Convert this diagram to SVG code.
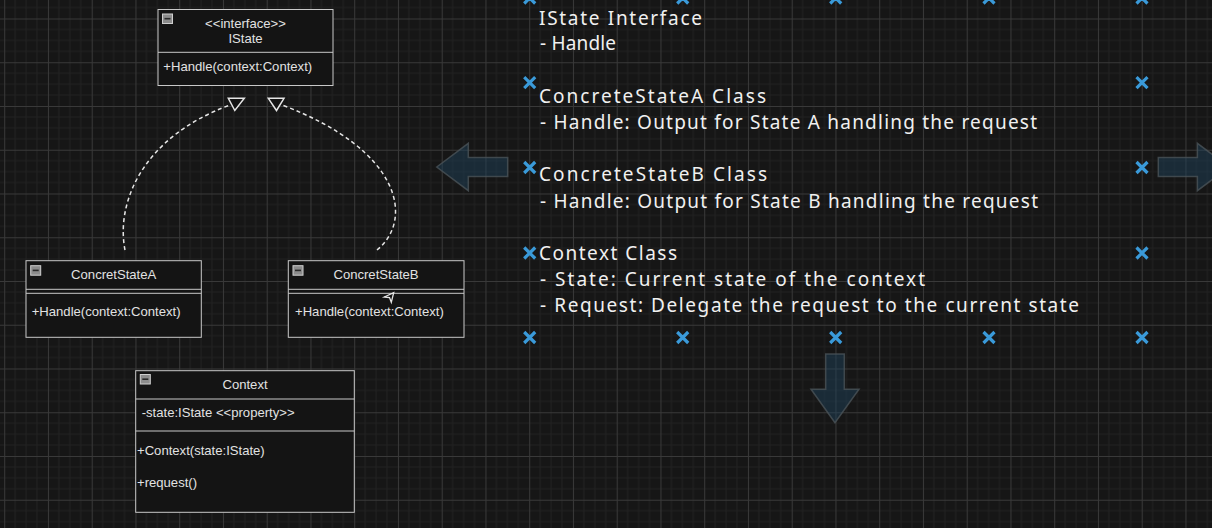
<svg xmlns="http://www.w3.org/2000/svg" width="1212" height="528" viewBox="0 0 1212 528">
<defs>
<pattern id="grid" patternUnits="userSpaceOnUse" x="4.2" y="18.5" width="43.75" height="43.75">
<path d="M10.94,0V43.75M21.88,0V43.75M32.81,0V43.75M0,10.94H43.75M0,21.88H43.75M0,32.81H43.75" stroke="#222222" stroke-width="1" fill="none"/>
<path d="M0.5,0V43.75M0,0.5H43.75" stroke="#393939" stroke-width="1" fill="none"/>
</pattern>
<g id="xmark"><path d="M-5.5,-5.5L5.5,5.5M5.5,-5.5L-5.5,5.5" stroke="#3a9ad9" stroke-width="3.2" fill="none"/></g>
</defs>
<style>
.box{fill:#141414;stroke:#c8c8c8;stroke-width:1}
.sep{stroke:#c8c8c8;stroke-width:1;fill:none}
.t{font-family:"Liberation Sans",Arial,sans-serif;font-size:13.1px;fill:#e2e2e2}
.c{text-anchor:middle}
.ico{fill:#8c8c8c;stroke:#cfcfcf;stroke-width:1}
.icol{stroke:#2a2a2a;stroke-width:1.6}
.conn{fill:none;stroke:#e6e6e6;stroke-width:1.5;stroke-dasharray:4 3}
.head{fill:#141414;stroke:#e6e6e6;stroke-width:1.5}
.h{font-family:"Noto Sans","Liberation Sans",sans-serif;font-size:19px;fill:#f0f0f0}
.big{fill:#1f4460;fill-opacity:0.45;stroke:#4a5258;stroke-opacity:0.8;stroke-width:1.5}
</style>
<rect width="1212" height="528" fill="#161616"/>
<rect width="1212" height="528" fill="url(#grid)"/>

<g id="arrows-bg">
<path class="big" d="M436.7,167 L468.3,143.3 L468.3,157.5 L507.7,157.5 L507.7,176.5 L468.3,176.5 L468.3,190.7 Z"/>
<path class="big" d="M1229,167 L1197.4,143.3 L1197.4,157.5 L1158.3,157.5 L1158.3,176.5 L1197.4,176.5 L1197.4,190.7 Z"/>
<path class="big" d="M835,422.7 L811,389.3 L825.7,389.3 L825.7,354 L844.3,354 L844.3,389.3 L859,389.3 Z"/>
</g>

<g id="markers">
<use href="#xmark" x="529.7" y="-2"/>
<use href="#xmark" x="682.7" y="-2"/>
<use href="#xmark" x="835.7" y="-2"/>
<use href="#xmark" x="989" y="-2"/>
<use href="#xmark" x="1142" y="-2"/>
<use href="#xmark" x="529.7" y="82.7"/>
<use href="#xmark" x="1142" y="82.7"/>
<use href="#xmark" x="529.7" y="167.5"/>
<use href="#xmark" x="1142" y="167.5"/>
<use href="#xmark" x="529.7" y="253"/>
<use href="#xmark" x="1142" y="253"/>
<use href="#xmark" x="529.7" y="337.5"/>
<use href="#xmark" x="682.7" y="337.5"/>
<use href="#xmark" x="835.7" y="337.5"/>
<use href="#xmark" x="989" y="337.5"/>
<use href="#xmark" x="1142" y="337.5"/>
</g>

<g id="notes">
<text class="h" x="539" y="25" textLength="163">IState Interface</text>
<text class="h" x="540" y="49.5" textLength="76">- Handle</text>
<text class="h" x="539" y="103" textLength="227">ConcreteStateA Class</text>
<text class="h" x="540" y="129" textLength="497">- Handle: Output for State A handling the request</text>
<text class="h" x="539" y="181" textLength="228">ConcreteStateB Class</text>
<text class="h" x="540" y="207.5" textLength="498">- Handle: Output for State B handling the request</text>
<text class="h" x="539" y="259.5" textLength="138">Context Class</text>
<text class="h" x="540" y="285.7" textLength="385">- State: Current state of the context</text>
<text class="h" x="540" y="312" textLength="539">- Request: Delegate the request to the current state</text>
</g>

<g id="connectors">
<path class="conn" d="M125,250 C116,205 140,138 230,105"/>
<path class="conn" d="M377,250 C414,220 402,150 282,105"/>
<polygon class="head" points="228.3,98.3 244.3,98.3 234.8,110.5"/>
<polygon class="head" points="268.3,98.3 284,98.3 276.5,110.5"/>
</g>

<g id="IState">
<rect class="box" x="158" y="9.5" width="175" height="76"/>
<line class="sep" x1="158" y1="52.3" x2="333" y2="52.3"/>
<rect class="ico" x="162.5" y="14" width="10" height="9.5"/>
<line class="icol" x1="164.5" y1="18.7" x2="170.5" y2="18.7"/>
<text class="t c" x="245.5" y="28">&lt;&lt;interface&gt;&gt;</text>
<text class="t c" x="245.5" y="43">IState</text>
<text class="t" x="163.3" y="71.3">+Handle(context:Context)</text>
</g>

<g id="ConcretStateA">
<rect class="box" x="26" y="260.7" width="175.3" height="76.6"/>
<line class="sep" x1="26" y1="289.3" x2="201.3" y2="289.3"/>
<line class="sep" x1="26" y1="293.3" x2="201.3" y2="293.3"/>
<rect class="ico" x="30.7" y="265.7" width="10" height="9.5"/>
<line class="icol" x1="32.7" y1="270.4" x2="38.7" y2="270.4"/>
<text class="t c" x="113.7" y="279">ConcretStateA</text>
<text class="t" x="31.7" y="316.4">+Handle(context:Context)</text>
</g>

<g id="ConcretStateB">
<rect class="box" x="288.3" y="260.7" width="175.7" height="76.6"/>
<line class="sep" x1="288.3" y1="289.3" x2="464" y2="289.3"/>
<line class="sep" x1="288.3" y1="293.3" x2="464" y2="293.3"/>
<rect class="ico" x="293" y="265.7" width="10" height="9.5"/>
<line class="icol" x1="295" y1="270.4" x2="301" y2="270.4"/>
<text class="t c" x="376" y="279">ConcretStateB</text>
<text class="t" x="295" y="316.4">+Handle(context:Context)</text>
<path d="M384.3,297 L393.7,292.7 L391.3,302.3 L389.5,297.5 Z" fill="none" stroke="#e6e6e6" stroke-width="1.3"/>
</g>

<g id="Context">
<rect class="box" x="135.7" y="370.7" width="218.6" height="141.6"/>
<line class="sep" x1="135.7" y1="399" x2="354.3" y2="399"/>
<line class="sep" x1="135.7" y1="431" x2="354.3" y2="431"/>
<rect class="ico" x="140.3" y="374.5" width="10" height="9.5"/>
<line class="icol" x1="142.3" y1="379.2" x2="148.3" y2="379.2"/>
<text class="t c" x="245" y="389">Context</text>
<text class="t" x="141.7" y="417.4">-state:IState &lt;&lt;property&gt;&gt;</text>
<text class="t" x="137" y="454.7">+Context(state:IState)</text>
<text class="t" x="137" y="487.4">+request()</text>
</g>
</svg>
